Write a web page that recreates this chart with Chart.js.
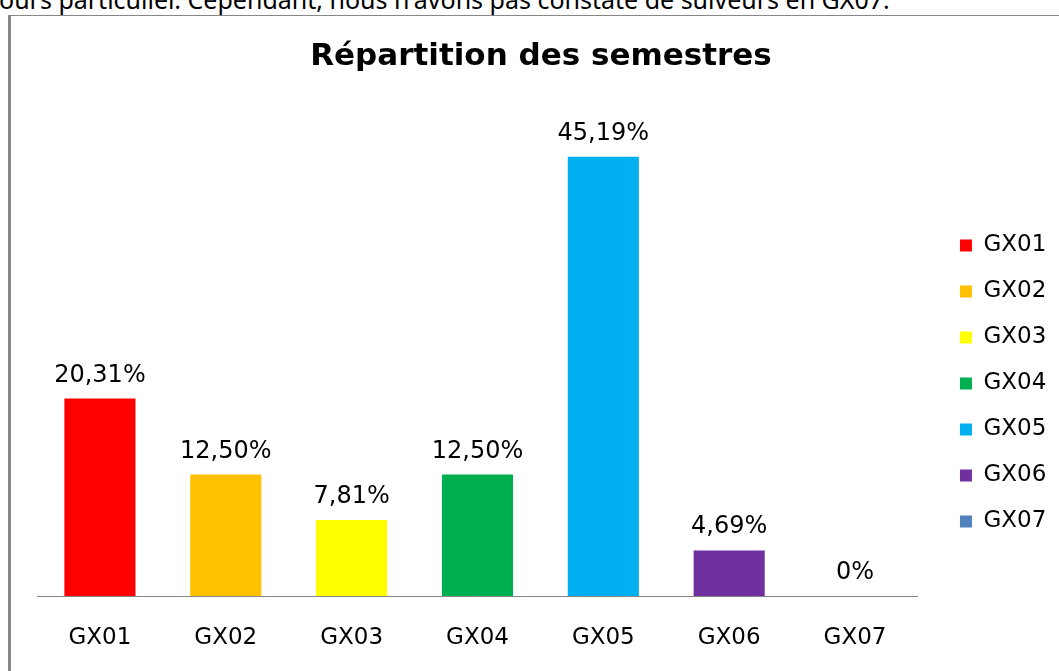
<!DOCTYPE html>
<html lang="fr">
<head>
<meta charset="utf-8">
<title>Répartition des semestres</title>
<script src="https://cdn.jsdelivr.net/npm/chart.js@4.4.1/dist/chart.umd.min.js"></script>
<style>
    html, body { margin: 0; padding: 0; background: #fff; overflow: hidden; }
    body { width: 1059px; height: 671px; position: relative; }
    .intro {
        position: absolute; left: -13px; top: -18px;
        font-family: 'Noto Sans', sans-serif; font-size: 25px; color: #000;
        white-space: nowrap;
    }
    .frame {
        position: absolute; left: 8px; top: 15px; width: 1100px; height: 700px;
        border-left: 3px solid #878787; border-top: 1px solid #878787;
    }
    #chart { position: absolute; left: 0; top: 0; }
</style>
</head>
<body>
<div class="intro">cours particulier. Cependant, nous n'avons pas constaté de suiveurs en GX07.</div>
<div class="frame"></div>
<canvas id="chart" width="1059" height="671"></canvas>
<script>
var categories = ['GX01', 'GX02', 'GX03', 'GX04', 'GX05', 'GX06', 'GX07'];
var shares = [20.31, 12.50, 7.81, 12.50, 45.19, 4.69, 0];
var colors = ['#ff0000', '#ffc000', '#ffff00', '#00b050', '#00b0f0', '#7030a0', '#4f81bd'];

function formatShare(v) {
    if (v === 0) return '0%';
    return v.toFixed(2).replace('.', ',') + '%';
}

// values written above each bar
var barLabels = {
    id: 'barLabels',
    afterDatasetsDraw: function(chart) {
        var ctx = chart.ctx;
        var meta = chart.getDatasetMeta(0);
        ctx.save();
        ctx.font = '24px "DejaVu Sans"';
        ctx.fillStyle = '#000';
        ctx.textAlign = 'center';
        ctx.textBaseline = 'alphabetic';
        meta.data.forEach(function(bar, i) {
            ctx.fillText(formatShare(chart.data.datasets[0].data[i]), bar.x, bar.y - 17);
        });
        ctx.restore();
    }
};

document.addEventListener('DOMContentLoaded', function() {
    var ctx = document.getElementById('chart').getContext('2d');

    new Chart(ctx, {
        type: 'bar',
        data: {
            labels: categories,
            datasets: [{
                data: shares,
                backgroundColor: colors,
                borderWidth: 0,
                categoryPercentage: 1,
                barPercentage: 0.565
            }]
        },
        options: {
            responsive: false,
            animation: false,
            layout: {
                padding: { left: 25.7, right: 2.7, top: 30, bottom: 19.4 }
            },
            plugins: {
                title: {
                    display: true,
                    text: 'Répartition des semestres',
                    color: '#000',
                    font: { family: 'DejaVu Sans', size: 31, weight: 'bold' },
                    padding: { top: 8.4, bottom: 34.4 }
                },
                legend: {
                    position: 'right',
                    title: {
                        display: true,
                        text: '',
                        padding: { top: 71, bottom: 0 }
                    },
                    labels: {
                        boxWidth: 12,
                        boxHeight: 12,
                        padding: 23,
                        color: '#000',
                        font: { family: 'DejaVu Sans', size: 23 },
                        generateLabels: function(chart) {
                            return chart.data.labels.map(function(label, i) {
                                return {
                                    text: label,
                                    fillStyle: colors[i],
                                    strokeStyle: colors[i],
                                    fontColor: '#000',
                                    lineWidth: 0,
                                    hidden: false,
                                    index: i
                                };
                            });
                        }
                    }
                },
                tooltip: { enabled: false }
            },
            scales: {
                x: {
                    grid: { display: false, drawTicks: false },
                    border: { display: true, color: '#868686', width: 1 },
                    ticks: {
                        color: '#000',
                        padding: 28,
                        font: { family: 'DejaVu Sans', size: 23 }
                    },
                    afterFit: function(scale) { scale.height = 55.6; }
                },
                y: {
                    min: 0,
                    max: 50,
                    grid: { display: false, drawTicks: false },
                    border: { display: false },
                    ticks: { display: false },
                    afterFit: function(scale) { scale.width = 11.3; }
                },
                y2: {
                    position: 'right',
                    grid: { display: false, drawTicks: false },
                    border: { display: false },
                    ticks: { display: false },
                    afterFit: function(scale) { scale.width = 19; }
                }
            }
        },
        plugins: [barLabels]
    });
});
</script>
</body>
</html>
